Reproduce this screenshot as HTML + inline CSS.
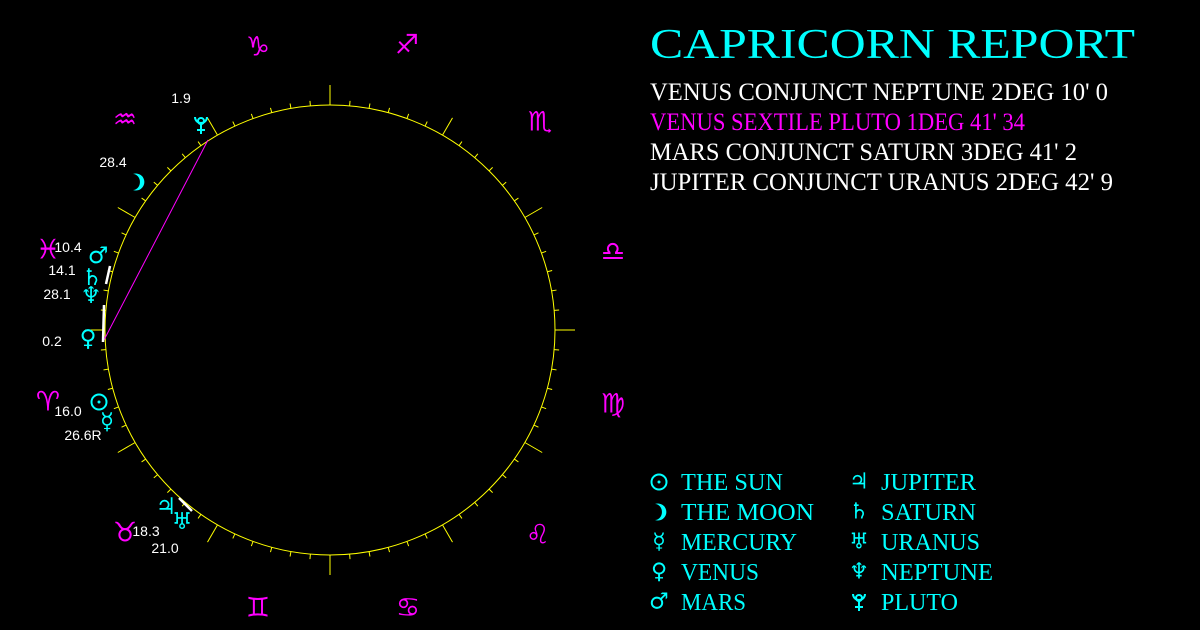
<!DOCTYPE html>
<html><head><meta charset="utf-8"><style>
html,body{margin:0;padding:0;background:#000;width:1200px;height:630px;overflow:hidden}
svg{display:block}
.s{fill:#ff00ff;font-family:"DejaVu Sans",sans-serif;font-size:27px;text-anchor:middle;dominant-baseline:central}
.p{fill:#00ffff;font-family:"DejaVu Sans",sans-serif;font-size:23px;text-anchor:middle;dominant-baseline:central}
.n{fill:#fff;font-family:"Liberation Sans",sans-serif;font-size:14px;text-anchor:middle;dominant-baseline:central}
.h{font-family:"Liberation Serif",serif;font-size:25px}
.l{fill:#00ffff;font-family:"Liberation Serif",serif;font-size:24px}
.ls{fill:#00ffff;font-family:"DejaVu Sans",sans-serif;font-size:22px;text-anchor:middle;dominant-baseline:central}
</style></head><body>
<svg width="1200" height="630" viewBox="0 0 1200 630" xmlns="http://www.w3.org/2000/svg">
<defs>
<line id="L" x1="555" y1="330" x2="575" y2="330" stroke="#ffff00" stroke-width="1"/>
<line id="S" x1="555" y1="330" x2="560" y2="330" stroke="#ffff00" stroke-width="1"/>
<g id="sun" fill="none" stroke="#00ffff" stroke-width="2"><circle r="7.5"/><circle r="1.5" fill="#00ffff" stroke="none"/></g>
<path id="moon" d="M-4,-8 A8.5,8.5 0 1 1 -4,8 A6.5,7.5 0 1 0 -4,-8 Z" fill="#00ffff"/>
<g id="pluto" fill="none" stroke="#00ffff" stroke-width="2"><circle cx="0" cy="-4" r="3"/><path d="M-6,-8 A6,6 0 0 0 6,-8"/><line x1="0" y1="-2" x2="0" y2="9"/><line x1="-4" y1="5" x2="4" y2="5"/></g>
</defs>
<circle cx="330" cy="330" r="225" fill="none" stroke="#ffff00" stroke-width="1"/>
<g>
<use href="#L" transform="rotate(0 330 330)"/><use href="#L" transform="rotate(30 330 330)"/><use href="#L" transform="rotate(60 330 330)"/><use href="#L" transform="rotate(90 330 330)"/><use href="#L" transform="rotate(120 330 330)"/><use href="#L" transform="rotate(150 330 330)"/><use href="#L" transform="rotate(180 330 330)"/><use href="#L" transform="rotate(210 330 330)"/><use href="#L" transform="rotate(240 330 330)"/><use href="#L" transform="rotate(270 330 330)"/><use href="#L" transform="rotate(300 330 330)"/><use href="#L" transform="rotate(330 330 330)"/>
<use href="#S" transform="rotate(5 330 330)"/><use href="#S" transform="rotate(10 330 330)"/><use href="#S" transform="rotate(15 330 330)"/><use href="#S" transform="rotate(20 330 330)"/><use href="#S" transform="rotate(25 330 330)"/>
<use href="#S" transform="rotate(35 330 330)"/><use href="#S" transform="rotate(40 330 330)"/><use href="#S" transform="rotate(45 330 330)"/><use href="#S" transform="rotate(50 330 330)"/><use href="#S" transform="rotate(55 330 330)"/>
<use href="#S" transform="rotate(65 330 330)"/><use href="#S" transform="rotate(70 330 330)"/><use href="#S" transform="rotate(75 330 330)"/><use href="#S" transform="rotate(80 330 330)"/><use href="#S" transform="rotate(85 330 330)"/>
<use href="#S" transform="rotate(95 330 330)"/><use href="#S" transform="rotate(100 330 330)"/><use href="#S" transform="rotate(105 330 330)"/><use href="#S" transform="rotate(110 330 330)"/><use href="#S" transform="rotate(115 330 330)"/>
<use href="#S" transform="rotate(125 330 330)"/><use href="#S" transform="rotate(130 330 330)"/><use href="#S" transform="rotate(135 330 330)"/><use href="#S" transform="rotate(140 330 330)"/><use href="#S" transform="rotate(145 330 330)"/>
<use href="#S" transform="rotate(155 330 330)"/><use href="#S" transform="rotate(160 330 330)"/><use href="#S" transform="rotate(165 330 330)"/><use href="#S" transform="rotate(170 330 330)"/><use href="#S" transform="rotate(175 330 330)"/>
<use href="#S" transform="rotate(185 330 330)"/><use href="#S" transform="rotate(190 330 330)"/><use href="#S" transform="rotate(195 330 330)"/><use href="#S" transform="rotate(200 330 330)"/><use href="#S" transform="rotate(205 330 330)"/>
<use href="#S" transform="rotate(215 330 330)"/><use href="#S" transform="rotate(220 330 330)"/><use href="#S" transform="rotate(225 330 330)"/><use href="#S" transform="rotate(230 330 330)"/><use href="#S" transform="rotate(235 330 330)"/>
<use href="#S" transform="rotate(245 330 330)"/><use href="#S" transform="rotate(250 330 330)"/><use href="#S" transform="rotate(255 330 330)"/><use href="#S" transform="rotate(260 330 330)"/><use href="#S" transform="rotate(265 330 330)"/>
<use href="#S" transform="rotate(275 330 330)"/><use href="#S" transform="rotate(280 330 330)"/><use href="#S" transform="rotate(285 330 330)"/><use href="#S" transform="rotate(290 330 330)"/><use href="#S" transform="rotate(295 330 330)"/>
<use href="#S" transform="rotate(305 330 330)"/><use href="#S" transform="rotate(310 330 330)"/><use href="#S" transform="rotate(315 330 330)"/><use href="#S" transform="rotate(320 330 330)"/><use href="#S" transform="rotate(325 330 330)"/>
<use href="#S" transform="rotate(335 330 330)"/><use href="#S" transform="rotate(340 330 330)"/><use href="#S" transform="rotate(345 330 330)"/><use href="#S" transform="rotate(350 330 330)"/><use href="#S" transform="rotate(355 330 330)"/>
</g>
<line x1="104" y1="340" x2="208" y2="140" stroke="#ff00ff" stroke-width="1"/>
<line x1="110" y1="266" x2="106" y2="284" stroke="#fff" stroke-width="2.5"/>
<line x1="104" y1="305" x2="103" y2="342" stroke="#fff" stroke-width="2.5"/>
<line x1="179" y1="498" x2="192" y2="511" stroke="#fff" stroke-width="2.5"/>
<!-- signs -->
<text class="s" x="48" y="250">♓</text>
<text class="s" x="125" y="120">♒</text>
<text class="s" x="258" y="47">♑</text>
<text class="s" x="407" y="45">♐</text>
<text class="s" x="540" y="122">♏</text>
<text class="s" x="613" y="252">♎</text>
<text class="s" x="613" y="404">♍</text>
<text class="s" x="538" y="535">♌</text>
<text class="s" x="408" y="608">♋</text>
<text class="s" x="258" y="608">♊</text>
<text class="s" x="125" y="533">♉</text>
<text class="s" x="48" y="402">♈</text>
<!-- planets -->
<use href="#pluto" x="201" y="125"/><text class="n" x="181" y="98">1.9</text>
<use href="#moon" x="137" y="182"/><text class="n" x="113" y="162">28.4</text>
<text class="p" x="98" y="256">♂</text><text class="n" x="68" y="247">10.4</text>
<text class="p" x="92" y="278">♄</text><text class="n" x="62" y="270">14.1</text>
<text class="p" x="91" y="296">♆</text><text class="n" x="57" y="294">28.1</text>
<text class="p" x="88" y="339">♀</text><text class="n" x="52" y="341">0.2</text>
<use href="#sun" x="99" y="402"/><text class="n" x="68" y="411">16.0</text>
<text class="p" x="107" y="422">☿</text><text class="n" x="83" y="435">26.6R</text>
<text class="p" x="166" y="507">♃</text>
<text class="p" x="182" y="522">♅</text>
<text class="n" x="146" y="531">18.3</text><text class="n" x="165" y="548">21.0</text>
<!-- header -->
<text x="650" y="58" fill="#00ffff" font-family="Liberation Serif,serif" font-size="42" textLength="485" lengthAdjust="spacingAndGlyphs">CAPRICORN REPORT</text>
<text class="h" x="650" y="100" fill="#fff" textLength="458" lengthAdjust="spacingAndGlyphs">VENUS CONJUNCT NEPTUNE 2DEG 10' 0</text>
<text class="h" x="650" y="130" fill="#ff00ff" textLength="375" lengthAdjust="spacingAndGlyphs">VENUS SEXTILE PLUTO 1DEG 41' 34</text>
<text class="h" x="650" y="160" fill="#fff" textLength="427" lengthAdjust="spacingAndGlyphs">MARS CONJUNCT SATURN 3DEG 41' 2</text>
<text class="h" x="650" y="190" fill="#fff" textLength="463" lengthAdjust="spacingAndGlyphs">JUPITER CONJUNCT URANUS 2DEG 42' 9</text>
<!-- legend -->
<use href="#sun" x="659" y="482"/><text class="l" x="681" y="490" textLength="102" lengthAdjust="spacingAndGlyphs">THE SUN</text>
<use href="#moon" x="659" y="512"/><text class="l" x="681" y="520" textLength="133" lengthAdjust="spacingAndGlyphs">THE MOON</text>
<text class="ls" x="659" y="542">☿</text><text class="l" x="681" y="550" textLength="116" lengthAdjust="spacingAndGlyphs">MERCURY</text>
<text class="ls" x="659" y="572">♀</text><text class="l" x="681" y="580" textLength="78" lengthAdjust="spacingAndGlyphs">VENUS</text>
<text class="ls" x="659" y="602">♂</text><text class="l" x="681" y="610" textLength="65" lengthAdjust="spacingAndGlyphs">MARS</text>
<text class="ls" x="859" y="482">♃</text><text class="l" x="881" y="490" textLength="95" lengthAdjust="spacingAndGlyphs">JUPITER</text>
<text class="ls" x="859" y="512">♄</text><text class="l" x="881" y="520" textLength="95" lengthAdjust="spacingAndGlyphs">SATURN</text>
<text class="ls" x="859" y="542">♅</text><text class="l" x="881" y="550" textLength="99" lengthAdjust="spacingAndGlyphs">URANUS</text>
<text class="ls" x="859" y="572">♆</text><text class="l" x="881" y="580" textLength="112" lengthAdjust="spacingAndGlyphs">NEPTUNE</text>
<use href="#pluto" x="859" y="602"/><text class="l" x="881" y="610" textLength="77" lengthAdjust="spacingAndGlyphs">PLUTO</text>
</svg>
</body></html>
